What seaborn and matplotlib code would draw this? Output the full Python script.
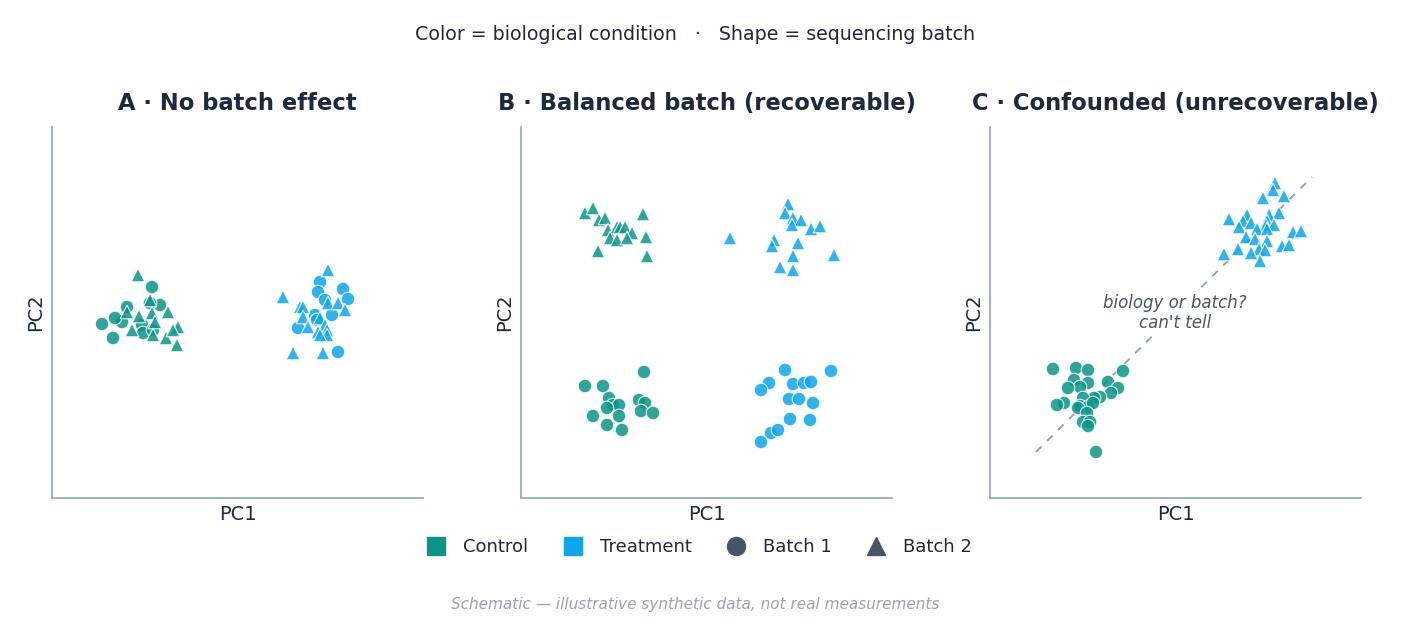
import pandas as pd
import matplotlib.pyplot as plt
import seaborn as sns
from matplotlib.lines import Line2D

sns.set_theme(style="white")
plt.rcParams["font.family"] = ["DejaVu Sans"]

# ---- data (PC scores, arbitrary units) ----
# Panel A: no batch effect
a_ctrl_b1_x = [5.0, 6.1, 7.0, 7.5, 6.3, 10.0, 10.8, 9.8, 9.0, 9.1, 10.1]
a_ctrl_b1_y = [17.4, 16.0, 17.6, 19.1, 18.0, 21.1, 19.3, 19.5, 17.3, 16.5, 16.8]
a_ctrl_b2_x = [8.6, 9.8, 11.6, 7.5, 8.7, 10.0, 10.3, 8.0, 10.1, 11.4, 12.6, 12.1, 12.5]
a_ctrl_b2_y = [22.3, 19.8, 18.6, 18.6, 18.2, 18.5, 17.6, 16.8, 16.3, 16.0, 17.1, 16.8, 15.3]
a_trt_b1_x = [26.8, 26.6, 29.1, 29.6, 27.3, 28.0, 26.3, 26.5, 24.6, 28.6]
a_trt_b1_y = [21.6, 20.6, 20.9, 19.9, 19.8, 18.3, 18.3, 17.8, 17.0, 14.6]
a_trt_b2_x = [27.6, 23.1, 24.8, 25.1, 27.6, 28.6, 29.3, 25.1, 26.8, 25.6, 27.3, 26.6, 27.5, 27.5, 26.8, 24.1, 27.1]
a_trt_b2_y = [22.8, 20.1, 19.1, 19.1, 19.5, 19.5, 18.8, 18.1, 18.0, 17.1, 17.3, 16.6, 16.8, 16.3, 16.3, 14.5, 14.5]

# Panel B: balanced batch
b_ctrl_b1_x = [12.3, 6.4, 8.2, 8.8, 9.2, 9.8, 8.6, 11.8, 12.4, 12.0, 13.2, 7.2, 9.8, 8.6, 10.1]
b_ctrl_b1_y = [12.6, 11.2, 11.2, 10.0, 9.3, 9.3, 9.0, 9.8, 9.5, 8.7, 8.5, 8.2, 8.2, 7.3, 6.8]
b_ctrl_b2_x = [6.4, 7.2, 7.8, 8.4, 12.2, 8.7, 9.6, 9.9, 10.4, 11.1, 8.9, 9.6, 10.6, 12.5, 7.7, 12.6]
b_ctrl_b2_y = [28.5, 29.0, 27.8, 28.0, 28.4, 26.8, 27.1, 27.1, 27.1, 26.5, 26.0, 25.8, 26.0, 26.1, 24.7, 24.2]
b_trt_b1_x = [26.4, 31.0, 24.8, 27.2, 28.3, 29.0, 24.0, 26.8, 27.8, 29.2, 26.9, 28.9, 25.0, 25.7, 24.0]
b_trt_b1_y = [12.8, 12.7, 11.5, 11.4, 11.5, 11.6, 10.8, 9.9, 9.9, 9.5, 7.9, 7.8, 6.5, 6.8, 5.6]
b_trt_b2_x = [26.7, 26.4, 27.2, 28.0, 27.1, 29.0, 29.9, 20.9, 25.3, 25.1, 27.7, 27.2, 31.3, 25.9, 27.2]
b_trt_b2_y = [29.4, 28.5, 28.0, 27.8, 27.3, 26.9, 27.2, 26.0, 25.8, 25.2, 25.5, 24.2, 24.3, 23.1, 22.8]

# Panel C: confounded (control = batch 1, treatment = batch 2)
c_ctrl_b1_x = [6.3, 8.6, 9.8, 13.3, 8.4, 9.8, 9.0, 7.8, 11.8, 12.8, 12.1, 11.0, 10.4, 9.3, 7.4,
               6.7, 9.0, 9.8, 10.3, 8.8, 9.7, 9.3, 10.0, 9.8, 10.6]
c_ctrl_b1_y = [12.9, 13.0, 12.8, 12.7, 11.8, 11.5, 11.1, 11.0, 11.6, 11.0, 10.5, 10.1, 10.0, 10.0, 9.5,
               9.3, 9.2, 9.1, 9.5, 9.0, 8.5, 7.6, 7.6, 7.2, 4.6]
c_trt_b2_x = [28.5, 28.3, 29.4, 27.3, 28.9, 23.9, 25.7, 25.3, 26.1, 27.9, 27.7, 27.6, 28.4, 24.9, 26.7,
              27.7, 30.3, 31.1, 25.6, 26.5, 27.7, 24.8, 26.9, 27.5, 29.2, 29.9, 23.4, 26.1, 27.0]
c_trt_b2_y = [31.5, 30.8, 30.2, 30.0, 28.5, 27.9, 28.3, 27.7, 27.5, 28.3, 27.7, 27.3, 27.3, 27.1, 26.9,
              26.9, 26.6, 26.7, 26.1, 25.9, 25.7, 24.9, 24.9, 24.8, 25.2, 25.3, 24.4, 24.5, 23.7]

confound_line_x = [4.6, 32.2]
confound_line_y = [4.6, 32.1]

titles = ["A · No batch effect", "B · Balanced batch (recoverable)", "C · Confounded (unrecoverable)"]

# ---- styles ----
CTRL = "#0d9488"
TRT = "#0ea5e9"
INK = "#1e293b"
SPINE = "#94a3b8"
MUTED = "#475569"
palette = {"Control": CTRL, "Treatment": TRT}
markers = {"Batch 1": "o", "Batch 2": "^"}


def build(groups):
    frames = []
    for xs, ys, cond, batch in groups:
        frames.append(pd.DataFrame({"PC1": xs, "PC2": ys, "condition": cond, "batch": batch}))
    return pd.concat(frames, ignore_index=True)


panels = [
    build([(a_ctrl_b1_x, a_ctrl_b1_y, "Control", "Batch 1"),
           (a_ctrl_b2_x, a_ctrl_b2_y, "Control", "Batch 2"),
           (a_trt_b1_x, a_trt_b1_y, "Treatment", "Batch 1"),
           (a_trt_b2_x, a_trt_b2_y, "Treatment", "Batch 2")]),
    build([(b_ctrl_b1_x, b_ctrl_b1_y, "Control", "Batch 1"),
           (b_ctrl_b2_x, b_ctrl_b2_y, "Control", "Batch 2"),
           (b_trt_b1_x, b_trt_b1_y, "Treatment", "Batch 1"),
           (b_trt_b2_x, b_trt_b2_y, "Treatment", "Batch 2")]),
    build([(c_ctrl_b1_x, c_ctrl_b1_y, "Control", "Batch 1"),
           (c_trt_b2_x, c_trt_b2_y, "Treatment", "Batch 2")]),
]

fig = plt.figure(figsize=(14.05, 6.39), dpi=100)
lefts = [52 / 1405, 521 / 1405, 990 / 1405]
axes = [fig.add_axes([l, 141 / 639, 371 / 1405, 371 / 639]) for l in lefts]

for ax, df, title in zip(axes, panels, titles):
    sns.scatterplot(data=df, x="PC1", y="PC2", hue="condition", style="batch",
                    palette=palette, markers=markers, s=95, alpha=0.85,
                    edgecolor="white", linewidth=0.8, legend=False, ax=ax, zorder=3)
    ax.set_xlim(0, 37.1)
    ax.set_ylim(0, 37.1)
    ax.set_xticks([])
    ax.set_yticks([])
    ax.set_xlabel("PC1", fontsize=14, color=INK, labelpad=5)
    ax.set_ylabel("PC2", fontsize=14, color=INK, labelpad=5)
    ax.set_title(title, fontsize=16.3, fontweight="bold", color=INK, pad=12)
    for side in ["top", "right"]:
        ax.spines[side].set_visible(False)
    for side in ["left", "bottom"]:
        ax.spines[side].set_color(SPINE)
        ax.spines[side].set_linewidth(1.2)

# confounded diagonal + annotation
axes[2].plot(confound_line_x, confound_line_y, ls=(0, (4, 4)), color=SPINE, lw=1.4, zorder=1)
axes[2].text(18.5, 18.5, "biology or batch?\ncan't tell", ha="center", va="center",
             fontsize=12, style="italic", color=MUTED, zorder=2,
             bbox=dict(facecolor="white", edgecolor="none", pad=1.5))

fig.text(0.4947, 1 - 35 / 639, "Color = biological condition   ·   Shape = sequencing batch",
         ha="center", va="center", fontsize=13.7, color=INK)

handles = [
    Line2D([], [], marker="s", ls="none", color=CTRL, markersize=13, label="Control"),
    Line2D([], [], marker="s", ls="none", color=TRT, markersize=13, label="Treatment"),
    Line2D([], [], marker="o", ls="none", color=MUTED, markersize=13, label="Batch 1"),
    Line2D([], [], marker="^", ls="none", color=MUTED, markersize=13, label="Batch 2"),
]
leg = fig.legend(handles=handles, loc="center", bbox_to_anchor=(0.4947, 1 - 547 / 639), ncol=4,
                 frameon=False, fontsize=13, handletextpad=0.5, columnspacing=1.45)
for t in leg.get_texts():
    t.set_color(INK)

fig.text(0.4947, 1 - 605 / 639, "Schematic — illustrative synthetic data, not real measurements",
         ha="center", va="center", fontsize=11, style="italic", color=SPINE)

fig.savefig("out.png", dpi=100)
